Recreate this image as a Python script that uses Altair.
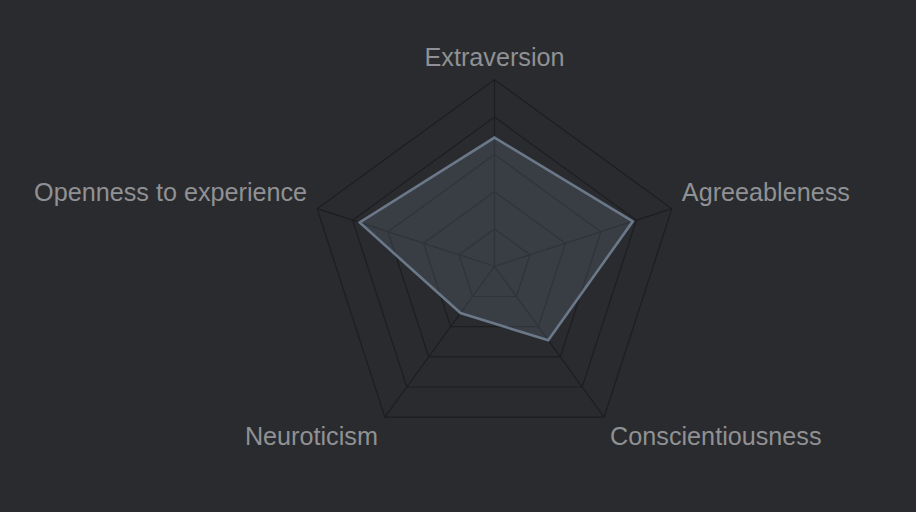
import altair as alt
import numpy as np
import pandas as pd

# ---- data ----
traits = ["Extraversion", "Agreeableness", "Conscientiousness", "Neuroticism", "Openness to experience"]
scores = [69, 78, 49, 31, 76]
levels = [20, 40, 60, 80, 100]
max_value = 100

n = len(traits)
angles = [2 * np.pi * i / n for i in range(n)]

# polygon for the scores
poly = pd.DataFrame({
    "trait": traits,
    "idx": list(range(n)),
    "x": [s * np.sin(a) for s, a in zip(scores, angles)],
    "y": [s * np.cos(a) for s, a in zip(scores, angles)],
})

# grid rings
grid_rows = []
for lv in levels:
    for i, a in enumerate(angles):
        grid_rows.append({"level": lv, "idx": i, "x": lv * np.sin(a), "y": lv * np.cos(a)})
grid = pd.DataFrame(grid_rows)

# spokes
spokes = pd.DataFrame({
    "trait": traits,
    "x0": [0.0] * n,
    "y0": [0.0] * n,
    "x": [max_value * np.sin(a) for a in angles],
    "y": [max_value * np.cos(a) for a in angles],
})

# ---- scales (pixel-matched) ----
px_per_unit = 186.5 / max_value
cx, cy = 494.5, 266.3
W, H = 916, 512
xs = alt.Scale(domain=[-cx / px_per_unit, (W - cx) / px_per_unit], nice=False, zero=False)
ys = alt.Scale(domain=[-(H - cy) / px_per_unit, cy / px_per_unit], nice=False, zero=False)

grid_color = "#1d1e21"

rings = alt.Chart(grid).mark_line(
    interpolate="linear-closed", stroke=grid_color, strokeWidth=1.2
).encode(
    x=alt.X("x:Q", scale=xs, axis=None),
    y=alt.Y("y:Q", scale=ys, axis=None),
    detail="level:N",
    order="idx:Q",
)

spoke_layer = alt.Chart(spokes).mark_rule(stroke=grid_color, strokeWidth=1.2).encode(
    x=alt.X("x0:Q", scale=xs, axis=None),
    y=alt.Y("y0:Q", scale=ys, axis=None),
    x2="x:Q",
    y2="y:Q",
)

area = alt.Chart(poly).mark_line(
    interpolate="linear-closed",
    fill="#7a8aa7",
    fillOpacity=0.2,
    stroke="#6b7889",
    strokeWidth=2.6,
    strokeJoin="miter",
).encode(
    x=alt.X("x:Q", scale=xs, axis=None),
    y=alt.Y("y:Q", scale=ys, axis=None),
    order="idx:Q",
)

label_base = alt.Chart(spokes)
label_specs = {
    "Extraversion": dict(align="center", baseline="alphabetic", dx=0, dy=-14),
    "Agreeableness": dict(align="left", baseline="middle", dx=10, dy=-16),
    "Conscientiousness": dict(align="left", baseline="middle", dx=6, dy=20),
    "Neuroticism": dict(align="right", baseline="middle", dx=-7, dy=20),
    "Openness to experience": dict(align="right", baseline="middle", dx=-10, dy=-16),
}
label_layers = []
for t, spec in label_specs.items():
    label_layers.append(
        label_base.transform_filter(alt.datum.trait == t).mark_text(
            font="Liberation Sans", fontSize=25.2, color="#909194", **spec
        ).encode(
            x=alt.X("x:Q", scale=xs, axis=None),
            y=alt.Y("y:Q", scale=ys, axis=None),
            text="trait:N",
        )
    )

chart = alt.layer(rings, spoke_layer, area, *label_layers).properties(
    width=W, height=H, padding=0, autosize="none", background="#2a2b2e"
).configure_view(stroke=None)

chart.save("out.html", embed_options={"renderer": "svg", "actions": False})
